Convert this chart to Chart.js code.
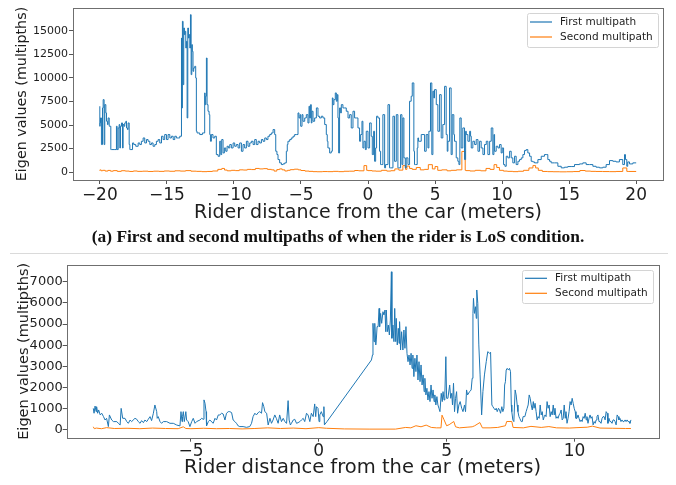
<!DOCTYPE html>
<html>
<head>
<meta charset="utf-8">
<script src="https://cdn.jsdelivr.net/npm/chart.js@4.4.1/dist/chart.umd.min.js"></script>
<style>
body { margin: 0; background: #fff; width: 676px; height: 485px; position: relative; overflow: hidden; }
#top-chart { position: absolute; left: 0; top: 0; }
#bottom-chart { position: absolute; left: 0; top: 255px; }
#caption { position: absolute; left: 0; top: 226px; width: 676px; text-align: center;
  font: bold 17.4px/20px 'Liberation Serif', serif; color: #111; }
#rule { position: absolute; left: 10px; top: 253px; width: 658px; height: 1px; background: #dadada; }
</style>
</head>
<body>
<canvas id="top-chart" width="676" height="230"></canvas>
<div id="caption">(a) First and second multipaths of when the rider is LoS condition.</div>
<div id="rule"></div>
<canvas id="bottom-chart" width="676" height="230"></canvas>
<script>
// ticks
var topXTicks = [-20, -15, -10, -5, 0, 5, 10, 15, 20];
var topYTicks = [0, 2500, 5000, 7500, 10000, 12500, 15000];
var botXTicks = [-5, 0, 5, 10];
var botYTicks = [0, 1000, 2000, 3000, 4000, 5000, 6000, 7000];

var seriesNames = ['First multipath', 'Second multipath'];

// (a) LoS: [distance, eigen value]
var topFirst = [
  [-20.00,6990],[-19.98,4870],[-19.95,5220],[-19.88,5750],[-19.80,2930],[-19.75,6810],[-19.68,7690],[-19.63,2930],
  [-19.55,7160],[-19.50,6280],[-19.43,5400],[-19.38,5050],[-19.30,5750],[-19.25,4870],[-19.18,4870],[-19.13,2400],
  [-18.88,2400],[-18.76,2400],[-18.71,4870],[-18.63,2400],[-18.56,4690],[-18.51,5050],[-18.46,2570],[-18.38,4870],
  [-18.31,5220],[-18.26,2570],[-18.19,5050],[-18.14,4870],[-18.06,5220],[-18.01,5400],[-17.94,4690],[-17.89,4520],
  [-17.81,5220],[-17.76,2930],[-17.69,2400],[-17.56,2400],[-17.47,3100],[-17.32,2930],[-17.14,2750],[-17.02,3100],
  [-16.90,2930],[-16.77,3280],[-16.65,3630],[-16.52,3100],[-16.40,3460],[-16.27,3280],[-16.15,2930],[-16.03,3100],
  [-15.90,2750],[-15.78,2930],[-15.65,3280],[-15.53,3460],[-15.40,3100],[-15.28,3810],[-15.16,3460],[-15.03,3990],
  [-14.91,3460],[-14.78,3990],[-14.66,3630],[-14.53,3810],[-14.41,3460],[-14.29,3810],[-14.16,3630],[-14.04,3630],
  [-13.91,3810],[-13.89,14220],[-13.84,6810],[-13.79,15990],[-13.74,9280],[-13.69,15280],[-13.64,14580],[-13.59,14930],
  [-13.54,13160],[-13.49,13870],[-13.44,5750],[-13.39,15280],[-13.34,14220],[-13.29,14580],[-13.24,13160],[-13.19,16690],
  [-13.14,10340],[-13.10,13520],[-13.05,12810],[-13.00,10690],[-12.92,11050],[-12.85,11220],[-12.80,9990],[-12.75,4340],
  [-12.55,4160],[-12.35,3990],[-12.18,4160],[-12.15,8400],[-12.10,7160],[-12.05,8050],[-12.00,12100],[-11.93,7160],
  [-11.85,6460],[-11.80,6100],[-11.75,3990],[-11.68,3280],[-11.56,3990],[-11.43,3630],[-11.31,3810],[-11.18,1870],
  [-11.06,1690],[-10.98,3280],[-10.91,1870],[-10.81,3460],[-10.71,2040],[-10.61,2570],[-10.51,2220],[-10.41,2750],
  [-10.31,2570],[-10.19,2930],[-10.06,2570],[-9.94,3100],[-9.82,2750],[-9.69,2930],[-9.57,2570],[-9.44,3100],
  [-9.32,2220],[-9.20,2930],[-9.07,2570],[-8.95,3280],[-8.82,2750],[-8.70,3100],[-8.57,3280],[-8.45,2930],
  [-8.33,3460],[-8.20,2930],[-8.08,3280],[-7.95,3100],[-7.83,3460],[-7.70,3280],[-7.58,3630],[-7.46,3460],
  [-7.33,3810],[-7.21,3990],[-7.08,4160],[-6.96,4520],[-6.88,3990],[-6.79,2220],[-6.71,1870],[-6.59,1340],
  [-6.46,990],[-6.34,810],[-6.21,880],[-6.09,990],[-6.02,2220],[-5.97,2930],[-5.84,3280],[-5.72,3460],
  [-5.59,3630],[-5.47,3810],[-5.35,3990],[-5.22,3990],[-5.15,6280],[-5.07,5750],[-5.02,6100],[-4.92,4870],
  [-4.85,6100],[-4.72,5400],[-4.60,5750],[-4.48,6100],[-4.40,5220],[-4.35,6990],[-4.28,5750],[-4.23,7160],
  [-4.18,5220],[-4.10,6460],[-3.98,5400],[-3.85,5750],[-3.73,6810],[-3.61,5930],[-3.48,5750],[-3.36,5930],
  [-3.23,5750],[-3.11,5050],[-3.04,3990],[-2.99,3280],[-2.86,2570],[-2.74,2040],[-2.66,2220],[-2.61,7870],
  [-2.54,7160],[-2.44,7690],[-2.36,8400],[-2.29,7520],[-2.24,8220],[-2.19,5750],[-2.12,2040],[-2.04,6810],
  [-1.99,6280],[-1.87,7160],[-1.74,6810],[-1.62,6810],[-1.49,6460],[-1.37,5750],[-1.25,6100],[-1.12,4690],
  [-1.00,6460],[-0.87,5750],[-0.75,5750],[-0.63,4690],[-0.55,3280],[-0.45,3990],[-0.38,5400],[-0.30,2570],
  [-0.20,3280],[-0.13,2400],[0.00,4340],[0.12,2570],[0.24,5220],[0.32,3810],[0.42,1870],[0.49,4340],
  [0.57,1160],[0.64,2570],[0.74,5930],[0.86,5750],[0.94,2220],[0.99,810],[1.11,810],[1.24,6100],
  [1.31,460],[1.49,810],[1.61,7160],[1.68,460],[1.86,460],[1.98,5930],[2.11,1160],[2.23,6100],
  [2.28,460],[2.43,460],[2.53,6100],[2.60,810],[2.68,5750],[2.78,1520],[2.85,460],[2.98,1520],
  [3.10,810],[3.22,7520],[3.30,8050],[3.42,9460],[3.47,2220],[3.55,810],[3.67,810],[3.72,2570],
  [3.77,3630],[3.87,3280],[3.97,3280],[4.02,3990],[4.22,3990],[4.34,2220],[4.47,3990],[4.54,2570],
  [4.66,4340],[4.76,9460],[4.84,1870],[4.91,8580],[4.96,7870],[5.09,8750],[5.21,7160],[5.34,4340],
  [5.46,8220],[5.58,3630],[5.71,5050],[5.83,9100],[5.91,3990],[5.96,2220],[6.08,3280],[6.20,8930],
  [6.28,1870],[6.40,6100],[6.45,3990],[6.58,3280],[6.70,1520],[6.78,1160],[6.85,810],[6.95,5750],
  [7.07,2570],[7.20,4690],[7.28,1340],[7.33,4340],[7.45,3990],[7.58,3280],[7.65,4340],[7.70,3810],
  [7.82,2570],[7.95,3280],[8.07,2930],[8.20,3460],[8.32,2220],[8.44,3280],[8.57,2570],[8.69,1870],
  [8.82,2930],[8.94,3280],[9.07,1870],[9.19,3280],[9.31,4690],[9.39,1870],[9.44,3990],[9.56,2220],
  [9.69,2750],[9.81,2570],[9.93,2930],[10.01,2040],[10.11,2570],[10.21,810],[10.31,630],[10.43,1690],
  [10.56,1520],[10.68,2220],[10.80,1520],[10.93,990],[11.05,1690],[11.18,810],[11.30,1160],[11.43,1340],
  [11.55,1520],[11.67,1870],[11.80,2290],[11.92,2400],[12.05,2040],[12.17,1690],[12.29,1160],[12.42,1090],
  [12.67,990],[12.92,1340],[13.16,1690],[13.29,1870],[13.41,1870],[13.54,1340],[13.66,1160],[13.91,990],
  [14.16,990],[14.41,630],[14.65,460],[14.90,530],[15.15,600],[15.40,600],[15.77,810],[16.02,880],
  [16.27,990],[16.52,810],[16.77,810],[17.01,630],[17.26,530],[17.51,460],[17.76,530],[18.01,810],
  [18.26,1230],[18.50,1160],[18.75,1090],[19.00,1340],[19.13,810],[19.20,1870],[19.30,1340],[19.37,630],
  [19.50,1090],[19.75,880],[20.00,990]
];
var topSecond = [
  [-20.00,170],[-19.90,240],[-19.80,150],[-19.60,200],[-19.40,120],[-19.20,190],[-19.00,110],[-18.70,170],
  [-18.40,90],[-18.10,160],[-17.80,120],[-17.50,80],[-17.20,130],[-16.80,90],[-16.40,110],[-16.00,80],
  [-15.60,110],[-15.20,90],[-14.80,130],[-14.40,100],[-14.00,150],[-13.60,120],[-13.20,170],[-12.80,110],
  [-12.40,90],[-12.00,60],[-11.60,80],[-11.20,130],[-10.90,300],[-10.70,400],[-10.50,230],[-10.20,150],
  [-9.90,200],[-9.60,170],[-9.30,250],[-9.00,230],[-8.70,300],[-8.40,280],[-8.10,400],[-7.80,350],
  [-7.50,380],[-7.20,300],[-7.00,250],[-6.80,120],[-6.60,280],[-6.40,350],[-6.20,250],[-6.00,130],
  [-5.80,200],[-5.50,270],[-5.20,320],[-5.00,250],[-4.70,180],[-4.40,120],[-4.10,90],[-3.80,60],
  [-3.40,50],[-3.00,70],[-2.60,60],[-2.20,90],[-1.80,60],[-1.40,100],[-1.00,110],[-0.70,180],
  [-0.30,150],[-0.10,700],[0.00,200],[0.30,170],[0.60,130],[1.00,110],[1.40,200],[1.70,120],
  [2.00,160],[2.30,350],[2.60,220],[2.80,700],[2.90,300],[3.10,650],[3.30,400],[3.60,300],
  [3.90,500],[4.20,250],[4.50,300],[4.80,800],[5.00,350],[5.20,600],[5.50,200],[5.90,250],
  [6.20,150],[6.60,200],[7.00,250],[7.25,2200],[7.30,200],[7.60,170],[8.00,130],[8.40,200],
  [8.80,150],[9.10,400],[9.40,300],[9.60,800],[9.80,500],[10.10,200],[10.40,120],[10.80,90],
  [11.20,60],[11.60,100],[12.00,200],[12.30,450],[12.50,700],[12.70,450],[13.00,200],[13.40,80],
  [13.80,60],[14.30,50],[14.80,40],[15.30,50],[15.80,70],[16.20,180],[16.60,120],[17.00,90],
  [17.50,80],[18.00,70],[18.50,60],[19.00,80],[19.30,450],[19.40,90],[20.00,80]
];

// (b) second run
var botFirst = [
  [-8.82,1020],[-8.79,790],[-8.75,1130],[-8.71,865],[-8.69,1100],[-8.65,790],[-8.61,945],[-8.55,710],
  [-8.49,790],[-8.42,630],[-8.36,470],[-8.30,550],[-8.23,160],[-8.19,710],[-8.10,470],[-8.03,395],
  [-7.90,395],[-7.84,315],[-7.77,235],[-7.73,1020],[-7.67,550],[-7.58,550],[-7.51,395],[-7.45,315],
  [-7.38,470],[-7.32,395],[-7.19,550],[-7.12,505],[-7.06,395],[-6.99,315],[-6.93,440],[-6.86,345],
  [-6.80,470],[-6.73,395],[-6.67,505],[-6.60,630],[-6.54,440],[-6.47,790],[-6.41,1180],[-6.34,865],
  [-6.32,550],[-6.28,630],[-6.21,395],[-6.15,315],[-6.08,395],[-5.95,395],[-5.82,315],[-5.69,315],
  [-5.56,235],[-5.43,190],[-5.39,865],[-5.35,395],[-5.33,630],[-5.30,865],[-5.26,395],[-5.20,865],
  [-5.17,470],[-5.11,395],[-5.04,160],[-4.97,395],[-4.91,550],[-4.84,315],[-4.78,395],[-4.65,470],
  [-4.58,550],[-4.52,505],[-4.49,1420],[-4.45,1260],[-4.41,865],[-4.39,190],[-4.32,395],[-4.26,470],
  [-4.13,315],[-4.06,550],[-4.00,470],[-3.93,710],[-3.87,710],[-3.80,790],[-3.74,755],[-3.67,470],
  [-3.61,790],[-3.54,865],[-3.48,865],[-3.41,820],[-3.35,470],[-3.28,395],[-3.22,315],[-3.15,190],
  [-3.09,160],[-2.96,160],[-2.83,125],[-2.70,160],[-2.63,315],[-2.57,630],[-2.50,790],[-2.44,710],
  [-2.37,820],[-2.31,865],[-2.24,790],[-2.20,1290],[-2.15,1100],[-2.11,865],[-2.04,790],[-1.98,235],
  [-1.91,550],[-1.85,315],[-1.79,470],[-1.72,710],[-1.66,550],[-1.59,315],[-1.53,710],[-1.46,395],
  [-1.39,550],[-1.33,395],[-1.26,315],[-1.20,1385],[-1.16,470],[-1.11,235],[-1.07,315],[-1.00,470],
  [-0.94,505],[-0.87,315],[-0.81,345],[-0.74,395],[-0.68,470],[-0.61,550],[-0.55,395],[-0.48,790],
  [-0.42,710],[-0.35,395],[-0.29,790],[-0.22,630],[-0.16,1230],[-0.12,630],[-0.09,1100],[-0.03,1020],
  [0.01,395],[0.04,710],[0.10,865],[0.17,630],[0.20,1100],[0.22,240],[0.32,395],[2.06,3305],
  [2.10,3540],[2.12,5035],[2.16,4170],[2.19,5035],[2.23,4015],[2.25,4250],[2.28,4880],[2.32,4880],
  [2.36,5740],[2.38,4880],[2.42,5505],[2.46,5035],[2.51,5585],[2.55,5430],[2.59,5665],[2.62,4640],
  [2.64,5665],[2.68,4640],[2.72,4955],[2.76,4485],[2.80,5190],[2.84,7470],[2.86,4330],[2.90,4955],
  [2.94,4170],[2.97,5740],[3.01,4170],[3.03,5270],[3.07,4015],[3.11,4800],[3.14,4090],[3.16,5115],
  [3.20,3775],[3.24,4640],[3.29,3775],[3.33,4720],[3.37,3855],[3.41,4880],[3.45,3620],[3.49,3225],
  [3.53,3540],[3.57,3070],[3.61,3620],[3.65,2910],[3.68,3540],[3.72,2520],[3.76,3385],[3.80,2755],
  [3.84,3540],[3.88,2360],[3.92,3225],[3.96,2280],[4.00,3070],[4.04,2125],[4.08,2600],[4.12,1810],
  [4.15,2440],[4.19,1655],[4.23,1970],[4.27,1415],[4.31,1810],[4.35,1340],[4.39,2125],[4.43,1495],
  [4.47,1890],[4.51,1340],[4.54,1655],[4.58,1180],[4.62,1575],[4.66,1180],[4.70,1025],[4.74,865],
  [4.79,1730],[4.83,1340],[4.86,1810],[4.90,1415],[4.93,1655],[4.97,3460],[5.00,1495],[5.05,1495],
  [5.12,2125],[5.16,1495],[5.20,1730],[5.23,1180],[5.27,2205],[5.31,865],[5.35,1495],[5.39,1810],
  [5.43,790],[5.48,1180],[5.53,1340],[5.59,1025],[5.64,865],[5.70,1180],[5.74,865],[5.78,1890],
  [5.82,1655],[5.90,1810],[5.96,1890],[6.00,2440],[6.03,5505],[6.05,6215],[6.09,5505],[6.13,5820],
  [6.16,5270],[6.18,6610],[6.22,5980],[6.26,4015],[6.31,2600],[6.37,710],[6.42,1810],[6.48,2600],
  [6.55,3225],[6.61,3700],[6.68,3620],[6.72,3670],[6.77,1180],[6.81,1100],[6.85,1025],[6.90,945],
  [6.94,1025],[6.98,865],[7.03,1025],[7.07,945],[7.11,790],[7.16,1100],[7.20,865],[7.24,1025],
  [7.27,2125],[7.30,2280],[7.33,2830],[7.37,2910],[7.42,2830],[7.46,2910],[7.50,2755],[7.53,1180],
  [7.55,865],[7.59,475],[7.63,395],[7.68,1890],[7.72,1655],[7.76,1180],[7.79,865],[7.83,630],
  [7.86,550],[7.92,395],[7.96,395],[7.99,630],[8.02,630],[8.06,630],[8.11,865],[8.15,1025],
  [8.19,1180],[8.23,1655],[8.27,1495],[8.31,1180],[8.35,945],[8.39,1340],[8.42,1025],[8.46,1260],
  [8.50,865],[8.54,475],[8.58,630],[8.62,550],[8.66,1180],[8.70,710],[8.74,865],[8.78,475],
  [8.82,630],[8.85,710],[8.89,630],[8.93,1340],[8.97,1025],[9.01,1180],[9.05,630],[9.09,865],
  [9.13,710],[9.17,1180],[9.21,710],[9.24,1025],[9.28,550],[9.32,630],[9.36,550],[9.40,710],
  [9.44,790],[9.48,945],[9.52,475],[9.56,550],[9.60,1180],[9.64,550],[9.67,865],[9.71,315],
  [9.75,550],[9.79,865],[9.83,1340],[9.87,1180],[9.91,1495],[9.95,1260],[9.99,1025],[10.03,865],
  [10.06,550],[10.10,550],[10.14,710],[10.18,550],[10.22,395],[10.26,475],[10.30,395],[10.34,630],
  [10.38,550],[10.42,790],[10.46,475],[10.49,630],[10.53,315],[10.57,550],[10.61,710],[10.65,550],
  [10.69,630],[10.73,240],[10.77,395],[10.81,315],[10.85,475],[10.88,630],[10.92,710],[10.96,395],
  [11.00,395],[11.04,315],[11.08,550],[11.12,630],[11.16,630],[11.20,475],[11.24,865],[11.28,790],
  [11.31,315],[11.35,550],[11.39,395],[11.43,395],[11.47,315],[11.51,475],[11.55,475],[11.59,395],
  [11.63,240],[11.67,710],[11.71,630],[11.74,475],[11.78,550],[11.82,395],[11.86,475],[11.90,395],
  [11.94,395],[11.98,475],[12.02,395],[12.06,475],[12.10,395],[12.14,395],[12.17,315],[12.21,475]
];
var botSecond = [
  [-8.82,150],[-8.78,60],[-8.70,90],[-8.50,60],[-8.30,110],[-8.00,70],[-7.50,80],[-7.00,60],
  [-6.50,90],[-6.00,70],[-5.50,60],[-5.30,150],[-5.20,70],[-5.00,60],[-4.50,80],[-4.00,60],
  [-3.50,70],[-3.00,50],[-2.50,70],[-2.00,100],[-1.50,70],[-1.00,90],[-0.50,60],[0.00,110],
  [0.30,80],[1.00,50],[2.00,40],[3.00,40],[3.40,120],[3.60,100],[3.80,200],[4.00,150],
  [4.20,230],[4.40,120],[4.60,100],[4.78,100],[4.82,700],[4.90,480],[5.00,200],[5.10,250],
  [5.28,400],[5.35,150],[5.50,100],[5.80,130],[6.00,150],[6.10,200],[6.30,350],[6.40,100],
  [6.70,100],[7.00,120],[7.30,200],[7.35,400],[7.55,400],[7.60,120],[8.00,100],[8.30,170],
  [8.70,120],[9.00,160],[9.30,100],[9.80,90],[10.10,110],[10.50,130],[10.70,180],[11.00,90],
  [11.50,80],[12.00,70],[12.21,70]
];

var BLUE = '#1f77b4';
var ORANGE = '#ff7f0e';
var TEXT = '#1e1e1e';
Chart.defaults.font.family = "'DejaVu Sans'";

function fmt(v) {
  return v < 0 ? '\u2212' + Math.abs(v) : String(v);
}

function toPoints(rows) {
  return rows.map(function (r) { return { x: r[0], y: r[1] }; });
}

// matplotlib-like box around the plot area
var frame = {
  id: 'frame',
  afterDatasetsDraw: function (chart) {
    var a = chart.chartArea, ctx = chart.ctx;
    ctx.save();
    ctx.strokeStyle = '#6f6f6f';
    ctx.lineWidth = 1;
    ctx.strokeRect(Math.round(a.left) + 0.5, Math.round(a.top) + 0.5,
      Math.round(a.right - a.left), Math.round(a.bottom - a.top));
    ctx.restore();
  }
};

// legend box drawn in the upper right corner
var boxLegend = {
  id: 'boxLegend',
  afterDraw: function (chart, args, o) {
    var ctx = chart.ctx;
    ctx.save();
    ctx.beginPath();
    ctx.roundRect(o.x + 0.5, o.y + 0.5, o.w, o.h, 2);
    ctx.fillStyle = 'rgba(255,255,255,0.85)';
    ctx.fill();
    ctx.strokeStyle = '#d4d4d4';
    ctx.lineWidth = 1;
    ctx.stroke();
    ctx.font = "10.5px 'DejaVu Sans'";
    ctx.textBaseline = 'middle';
    chart.data.datasets.forEach(function (ds, i) {
      var y = o.y + o.row0 + i * o.rowGap;
      ctx.strokeStyle = ds.borderColor;
      ctx.lineWidth = 1.2;
      ctx.beginPath();
      ctx.moveTo(o.x + 3, y);
      ctx.lineTo(o.x + 25, y);
      ctx.stroke();
      ctx.fillStyle = TEXT;
      ctx.fillText(ds.label, o.x + 33, y);
    });
    ctx.restore();
  }
};

function axis(ticks, min, max, tickFont, fit, title) {
  return {
    type: 'linear',
    min: min,
    max: max,
    afterBuildTicks: function (ax) { ax.ticks = ticks.map(function (v) { return { value: v }; }); },
    afterFit: fit,
    border: { display: false },
    grid: { drawOnChartArea: false, drawTicks: true, tickLength: 4, tickColor: '#555', color: '#555' },
    ticks: { autoSkip: false, maxRotation: 0, padding: tickFont.padding, color: TEXT,
      font: { size: tickFont.size }, callback: fmt },
    title: title
  };
}

function makeChart(id, first, second, stepped, opts) {
  return new Chart(document.getElementById(id), {
    type: 'line',
    data: {
      datasets: [{
        label: seriesNames[0],
        data: toPoints(first),
        borderColor: BLUE,
        borderWidth: 1,
        pointRadius: 0,
        stepped: stepped
      }, {
        label: seriesNames[1],
        data: toPoints(second),
        borderColor: ORANGE,
        borderWidth: 1,
        pointRadius: 0,
        stepped: stepped
      }]
    },
    options: {
      responsive: false,
      animation: false,
      layout: { padding: opts.padding },
      plugins: { legend: { display: false }, tooltip: { enabled: false }, boxLegend: opts.legend },
      scales: opts.scales
    },
    plugins: [frame, boxLegend]
  });
}

// Top chart (a)
makeChart('top-chart', topFirst, topSecond, 'after', {
  padding: { left: 0, right: 13, top: 8, bottom: 0 },
  legend: { x: 527, y: 13, w: 131, h: 34, row0: 9, rowGap: 15 },
  scales: {
    x: axis(topXTicks, -22, 22, { size: 17, padding: 1 },
      function (ax) { ax.height = 50; },
      { display: true, text: 'Rider distance from the car (meters)', color: TEXT,
        font: { size: 19, lineHeight: 1 }, padding: { top: 0, bottom: 7.5 } }),
    y: axis(topYTicks, -825, 17400, { size: 11, padding: 1 },
      function (ax) { ax.width = 73; },
      { display: true, text: 'Eigen values (multipths)', color: TEXT,
        font: { size: 14.3, lineHeight: 1 }, padding: { top: 15, bottom: 0 } })
  }
});

// Bottom chart
makeChart('bottom-chart', botFirst, botSecond, false, {
  padding: { left: 0, right: 17.7, top: 10, bottom: 0 },
  legend: { x: 522, y: 15, w: 131, h: 33, row0: 8.3, rowGap: 15 },
  scales: {
    x: axis(botXTicks, -9.86, 13.28, { size: 17, padding: 0 },
      function (ax) { ax.height = 47.3; },
      { display: true, text: 'Rider distance from the car (meters)', color: TEXT,
        font: { size: 19.5, lineHeight: 1 }, padding: { top: 0, bottom: 7 } }),
    y: axis(botYTicks, -365, 7790, { size: 13, padding: 0 },
      function (ax) { ax.width = 66.7; },
      { display: true, text: 'Eigen values (multipths)', color: TEXT,
        font: { size: 14.5, lineHeight: 1 }, padding: { top: 17, bottom: 0 } })
  }
});
</script>
</body>
</html>
